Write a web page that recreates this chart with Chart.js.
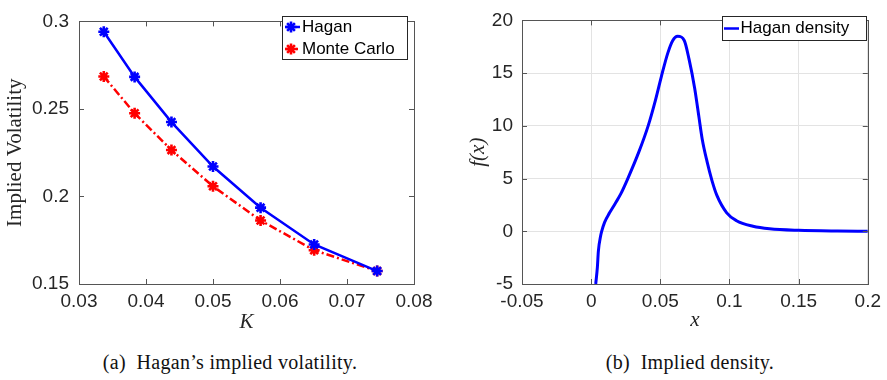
<!DOCTYPE html>
<html>
<head>
<meta charset="utf-8">
<script src="https://cdn.jsdelivr.net/npm/chart.js@4/dist/chart.umd.min.js"></script>
<style>
  html, body { margin: 0; padding: 0; background: #fff; }
  body { width: 887px; height: 380px; position: relative; overflow: hidden; }
  canvas { position: absolute; top: 0; }
  #cL { left: 0; }
  #cR { left: 440px; }
  .cap { position: absolute; top: 351px; font-family: "Liberation Serif", serif; font-size: 20px; color: #111; white-space: pre; transform: translateX(-50%); letter-spacing: 0.3px; }
</style>
</head>
<body>
<canvas id="cL" width="440" height="340"></canvas>
<canvas id="cR" width="447" height="340"></canvas>
<div class="cap" style="left:230px">(a)  Hagan’s implied volatility.</div>
<div class="cap" style="left:690px">(b)  Implied density.</div>
<script>
// ---- Data ----
const strikes = [0.0337, 0.0383, 0.0438, 0.0500, 0.0571, 0.0651, 0.0745];
const haganVol = [0.2941, 0.2683, 0.2425, 0.2171, 0.1936, 0.1726, 0.1574];
const monteCarloVol = [0.2685, 0.2475, 0.2265, 0.2058, 0.1863, 0.1693, 0.1574];

const densityX = [0.0033, 0.0045, 0.0052, 0.0069, 0.0076, 0.0097, 0.0133, 0.0175, 0.0215, 0.0265,
  0.0347, 0.0412, 0.0464, 0.0508, 0.0554, 0.0590, 0.0625, 0.0673, 0.0708, 0.0748, 0.0779, 0.0803,
  0.0838, 0.0874, 0.0909, 0.0980, 0.1051, 0.1170, 0.1290, 0.1500, 0.1780, 0.2000];
const densityY = [-5.0, -3.4, -1.9, -0.4, 0.0, 0.85, 1.75, 2.66, 3.57, 5.0,
  7.6, 10.0, 12.4, 14.7, 16.9, 18.1, 18.5, 18.1, 16.3, 13.6, 10.85, 8.73,
  6.6, 4.78, 3.4, 1.75, 1.0, 0.48, 0.24, 0.09, 0.02, 0.0];

const legendLeft = ['Hagan', 'Monte Carlo'];
const legendRight = ['Hagan density'];
const titles = { leftY: 'Implied Volatility', leftX: 'K', rightY: 'f(x)', rightX: 'x' };

// ---- Styles ----
const BLUE = '#0000ff', RED = '#ff0000';
const AXIS = '#555555', TXT = '#262626';
const tickFont = { family: '"Liberation Sans", Arial, sans-serif', size: 19 };
const titleFont = { family: '"Liberation Serif", serif', size: 21, style: 'italic' };
const fmt = v => String(+(+v).toFixed(4));

function drawStar(ctx, x, y, r, color, lw) {
  ctx.save();
  ctx.strokeStyle = color; ctx.lineWidth = lw;
  ctx.beginPath();
  for (let a = 0; a < 4; a++) {
    const t = a * Math.PI / 4;
    ctx.moveTo(x - r * Math.cos(t), y - r * Math.sin(t));
    ctx.lineTo(x + r * Math.cos(t), y + r * Math.sin(t));
  }
  ctx.stroke();
  ctx.restore();
}

function boxPlugin(legendFn) {
  return {
    id: 'box',
    afterDraw(chart) {
      const { ctx, chartArea: ca, scales } = chart;
      ctx.save();
      ctx.strokeStyle = AXIS; ctx.lineWidth = 1;
      ctx.strokeRect(Math.round(ca.left) + 0.5, Math.round(ca.top) + 0.5,
        Math.round(ca.right - ca.left), Math.round(ca.bottom - ca.top));
      const L = 5;
      ctx.beginPath();
      scales.x.ticks.forEach(t => {
        const px = Math.round(scales.x.getPixelForValue(t.value)) + 0.5;
        ctx.moveTo(px, ca.bottom); ctx.lineTo(px, ca.bottom - L);
        ctx.moveTo(px, ca.top); ctx.lineTo(px, ca.top + L);
      });
      scales.y.ticks.forEach(t => {
        const py = Math.round(scales.y.getPixelForValue(t.value)) + 0.5;
        ctx.moveTo(ca.left, py); ctx.lineTo(ca.left + L, py);
        ctx.moveTo(ca.right, py); ctx.lineTo(ca.right - L, py);
      });
      ctx.stroke();
      ctx.restore();
      legendFn(ctx);
    }
  };
}

function legendBox(ctx, x, y, w, h) {
  ctx.save();
  ctx.fillStyle = '#fff';
  ctx.fillRect(x, y, w, h);
  ctx.strokeStyle = '#262626'; ctx.lineWidth = 1;
  ctx.strokeRect(x + 0.5, y + 0.5, w, h);
  ctx.restore();
}

function legendText(ctx, text, x, y) {
  ctx.save();
  ctx.fillStyle = '#000';
  ctx.font = '17px "Liberation Sans", Arial, sans-serif';
  ctx.textBaseline = 'middle';
  ctx.textAlign = 'left';
  ctx.fillText(text, x, y);
  ctx.restore();
}

// ---- Left chart ----
new Chart(document.getElementById('cL'), {
  type: 'scatter',
  data: {
    datasets: [
      {
        label: legendLeft[0],
        data: strikes.map((k, i) => ({ x: k, y: haganVol[i] })),
        showLine: true, borderColor: BLUE, backgroundColor: BLUE, borderWidth: 2.5,
        pointStyle: 'star', pointRadius: 5.5, pointBorderWidth: 2.6, pointBorderColor: BLUE
      },
      {
        label: legendLeft[1],
        data: strikes.map((k, i) => ({ x: k, y: monteCarloVol[i] })),
        showLine: true, borderColor: RED, backgroundColor: RED, borderWidth: 2.5,
        borderDash: [8, 3, 2, 3],
        pointStyle: 'star', pointRadius: 5.5, pointBorderWidth: 2.6, pointBorderColor: RED
      }
    ]
  },
  options: {
    responsive: false, animation: false, devicePixelRatio: 1,
    layout: { padding: { left: 0, right: 26, top: 9, bottom: 0 } },
    plugins: { legend: { display: false }, tooltip: { enabled: false } },
    scales: {
      x: {
        type: 'linear', min: 0.03, max: 0.08,
        ticks: { stepSize: 0.01, font: tickFont, color: TXT, padding: 6, callback: fmt, maxRotation: 0 },
        grid: { display: false, drawTicks: false }, border: { display: false },
        title: { display: true, text: titles.leftX, font: titleFont, color: TXT, padding: { top: 0, bottom: 5 } },
        afterFit(s) { s.height = 56; }
      },
      y: {
        type: 'linear', min: 0.15, max: 0.3,
        ticks: { stepSize: 0.05, font: tickFont, color: TXT, padding: 10, callback: fmt },
        grid: { display: false, drawTicks: false }, border: { display: false },
        title: { display: true, text: titles.leftY, font: { family: '"Liberation Serif", serif', size: 21 }, color: TXT, padding: { top: 3, bottom: 0 } },
        afterFit(s) { s.width = 79; }
      }
    }
  },
  plugins: [boxPlugin(ctx => {
    legendBox(ctx, 282, 16, 125, 43);
    ctx.save();
    ctx.lineWidth = 2.5;
    ctx.strokeStyle = BLUE;
    ctx.beginPath(); ctx.moveTo(285, 27); ctx.lineTo(300, 27); ctx.stroke();
    ctx.strokeStyle = RED; ctx.setLineDash([8, 3, 2, 3]);
    ctx.beginPath(); ctx.moveTo(285, 49); ctx.lineTo(300, 49); ctx.stroke();
    ctx.restore();
    drawStar(ctx, 291, 27, 5.5, BLUE, 2.6);
    drawStar(ctx, 291, 49, 5.5, RED, 2.6);
    legendText(ctx, legendLeft[0], 302, 27.5);
    legendText(ctx, legendLeft[1], 302, 49.5);
  })]
});

// ---- Right chart ----
new Chart(document.getElementById('cR'), {
  type: 'scatter',
  data: {
    datasets: [{
      label: legendRight[0],
      data: densityX.map((x, i) => ({ x, y: densityY[i] })),
      showLine: true, borderColor: BLUE, borderWidth: 3, pointRadius: 0,
      cubicInterpolationMode: 'monotone'
    }]
  },
  options: {
    responsive: false, animation: false, devicePixelRatio: 1,
    layout: { padding: { left: 0, right: 14, top: 9, bottom: 0 } },
    plugins: { legend: { display: false }, tooltip: { enabled: false } },
    scales: {
      x: {
        type: 'linear', min: -0.05, max: 0.2,
        ticks: { stepSize: 0.05, font: tickFont, color: TXT, padding: 6, callback: fmt, maxRotation: 0 },
        grid: { color: '#e3e3e3', drawTicks: false }, border: { display: false },
        title: { display: true, text: titles.rightX, font: titleFont, color: TXT, padding: { top: 0, bottom: 7 } },
        afterFit(s) { s.height = 56; }
      },
      y: {
        type: 'linear', min: -5, max: 20,
        ticks: { stepSize: 5, font: tickFont, color: TXT, padding: 9, callback: fmt },
        grid: { color: '#e3e3e3', drawTicks: false }, border: { display: false },
        title: { display: true, text: titles.rightY, font: titleFont, color: TXT, padding: { top: 26, bottom: 0 } },
        afterFit(s) { s.width = 82; }
      }
    }
  },
  plugins: [boxPlugin(ctx => {
    legendBox(ctx, 282, 16, 144, 24);
    ctx.save();
    ctx.lineWidth = 2.5; ctx.strokeStyle = BLUE;
    ctx.beginPath(); ctx.moveTo(284, 28.5); ctx.lineTo(299, 28.5); ctx.stroke();
    ctx.restore();
    legendText(ctx, legendRight[0], 300.5, 28.5);
  })]
});
</script>
</body>
</html>
